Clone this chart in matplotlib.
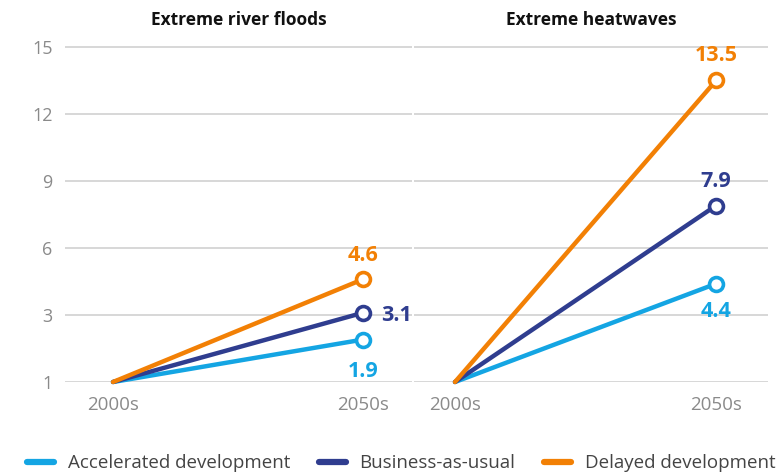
import numpy as np
import matplotlib
matplotlib.use('Agg')
import matplotlib.pyplot as plt
from matplotlib.lines import Line2D

# data (ratio relative to the 2000s)
periods = ['2000s', '2050s']
panels = ['Extreme river floods', 'Extreme heatwaves']
scenarios = ['Accelerated development', 'Business-as-usual', 'Delayed development']
colors = ['#14a5e3', '#2f3d8f', '#f28005']
floods = [[1, 1.9], [1, 3.1], [1, 4.6]]
heatwaves = [[1, 4.4], [1, 7.9], [1, 13.5]]
y_ticks = [1, 3, 6, 9, 12, 15]

plt.rcParams['font.family'] = ['Open Sans', 'DejaVu Sans']

# the baseline "1" sits where 0 would be, the rest of the axis is linear
def forward(v):
    v = np.asarray(v, dtype=float)
    return np.where(v < 1.5, (v - 1) * 3, v)

def inverse(u):
    u = np.asarray(u, dtype=float)
    return np.where(u < 1.5, u / 3 + 1, u)

fig = plt.figure(figsize=(7.79, 4.75), dpi=100)
W, H = 779, 475

def px_axes(x0, x1, y_top, y_bot):
    return fig.add_axes([x0 / W, 1 - y_bot / H, (x1 - x0) / W, (y_bot - y_top) / H])

ax1 = px_axes(65, 412, 33.6, 382)
ax2 = px_axes(414, 768, 33.6, 382)

# label placement: (offset x, offset y, ha) in points
label_pos = {
    0: [(0, -21, 'center'), (13, 0, 'left'), (0, 19, 'center')],
    1: [(0, -18, 'center'), (0, 19, 'center'), (0, 19.5, 'center')],
}

for i, (ax, data, title, xl) in enumerate([(ax1, floods, panels[0], (-0.192, 1.196)),
                                           (ax2, heatwaves, panels[1], (-0.157, 1.199))]):
    ax.set_yscale('function', functions=(forward, inverse))
    ax.set_ylim(1, 15.6)
    ax.set_xlim(*xl)
    x = np.arange(len(periods))
    for j, vals in enumerate(data):
        ax.plot(x, vals, color=colors[j], lw=3.2, solid_capstyle='round', clip_on=False, zorder=3)
        ax.plot(x[1], vals[1], 'o', ms=10, mfc='white', mec=colors[j], mew=2.6, clip_on=False, zorder=4)
        dx, dy, ha = label_pos[i][j]
        ax.annotate(f'{vals[1]}', (x[1], vals[1]), xytext=(dx, dy), textcoords='offset points',
                    ha=ha, va='center_baseline', color=colors[j], fontsize=15.5, fontweight='bold')
    ax.set_yticks(y_ticks)
    ax.set_yticklabels([str(t) for t in y_ticks])
    ax.yaxis.set_minor_locator(matplotlib.ticker.NullLocator())
    ax.grid(axis='y', color='#d4d4d4', lw=1.3)
    ax.set_axisbelow(True)
    ax.set_xticks(x)
    ax.set_xticklabels(periods)
    ax.tick_params(length=0, labelsize=13, labelcolor='#8a8a8a')
    ax.tick_params(axis='x', pad=10, labelsize=13.5)
    ax.tick_params(axis='y', pad=9)
    for s in ax.spines.values():
        s.set_visible(False)
    ax.set_title(title, fontsize=12.5, fontweight='bold', color='#111111', pad=6)
    if i == 1:
        ax.tick_params(axis='y', labelleft=False)

handles = [Line2D([0], [0], color=c, lw=4.5, solid_capstyle='round') for c in colors]
fig.legend(handles, scenarios, loc='lower center', bbox_to_anchor=(0.515, -0.03), ncol=3,
           frameon=False, fontsize=13.5, handlelength=1.45, columnspacing=1.55, handletextpad=0.7,
           labelcolor='#444444')

fig.savefig('out.png', dpi=100)
